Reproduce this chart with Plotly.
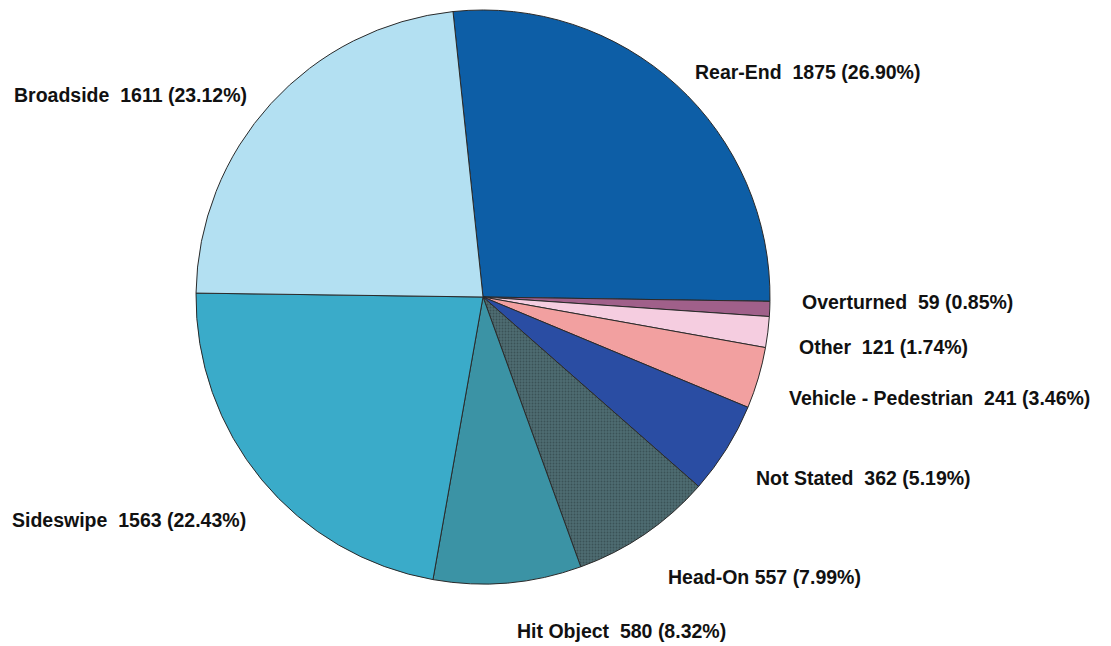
import plotly.graph_objects as go

categories = ["Rear-End", "Overturned", "Other", "Vehicle - Pedestrian", "Not Stated",
              "Head-On", "Hit Object", "Sideswipe", "Broadside"]
values = [1875, 59, 121, 241, 362, 557, 580, 1563, 1611]
percents = ["26.90%", "0.85%", "1.74%", "3.46%", "5.19%", "7.99%", "8.32%", "22.43%", "23.12%"]
colors = ["#0d5ea6", "#a0608a", "#f5cde0", "#f2a0a0", "#2a4da3",
          "#4e6c72", "#3b93a5", "#3aabc9", "#b3e0f2"]

W, H = 1111, 646
cx, cy, r = 483, 297, 287

fig = go.Figure(go.Pie(
    labels=categories, values=values, sort=False, direction="clockwise",
    rotation=-6, textinfo="none", hoverinfo="label+value+percent",
    marker=dict(colors=colors, line=dict(color="#2a2a2a", width=1),
                pattern=dict(shape=["", "", "", "", "", ".", "", "", ""],
                             bgcolor=colors,
                             fgcolor="#3a5256", size=3, solidity=0.3)),
    domain=dict(x=[(cx - r) / W, (cx + r) / W], y=[(H - cy - r) / H, (H - cy + r) / H]),
    showlegend=False,
))

# label anchor positions (left edge x, center y) in pixels
label_pos = {
    "Rear-End": (693, 72),
    "Overturned": (800, 302),
    "Other": (797, 347),
    "Vehicle - Pedestrian": (787, 398),
    "Not Stated": (754, 478),
    "Head-On": (666, 577),
    "Hit Object": (515, 631),
    "Sideswipe": (10, 520),
    "Broadside": (12, 95),
}
sep = {"Head-On": " "}
for cat, val, pct in zip(categories, values, percents):
    x, y = label_pos[cat]
    s = sep.get(cat, "&nbsp; ")
    fig.add_annotation(
        x=x / W, y=(H - y) / H, xref="paper", yref="paper",
        xanchor="left", yanchor="middle", showarrow=False,
        text=f"<b>{cat}{s}{val} ({pct})</b>",
        font=dict(family="Liberation Sans, Arial, sans-serif", size=19.5, color="#111111"),
    )

fig.update_layout(width=W, height=H, margin=dict(l=0, r=0, t=0, b=0),
                  paper_bgcolor="white", plot_bgcolor="white")
fig.write_html("out.html", config={"displayModeBar": False},
               post_script="document.body.style.margin='0';document.body.style.overflow='hidden';")
